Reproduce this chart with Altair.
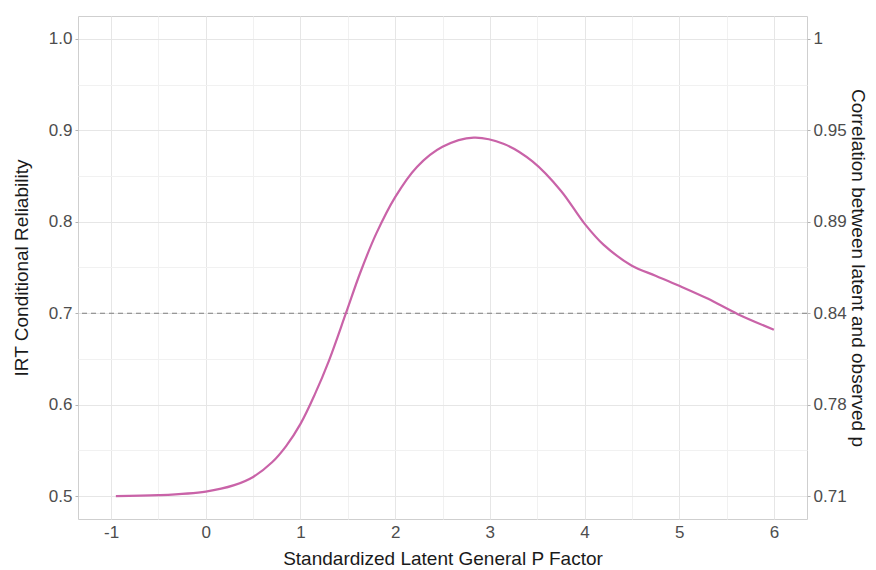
import altair as alt
import pandas as pd

# Curve
theta = [-0.95, -0.5, 0.0, 0.3, 0.5, 0.7, 0.85, 1.0, 1.15, 1.3, 1.48, 1.63, 1.8, 2.0,
         2.23, 2.5, 2.83, 3.15, 3.45, 3.75, 4.0, 4.2, 4.5, 4.75, 5.0, 5.3, 5.62, 6.0]
reliability = [0.500, 0.501, 0.505, 0.512, 0.521, 0.537, 0.555, 0.579, 0.611, 0.648,
               0.700, 0.744, 0.787, 0.827, 0.860, 0.882, 0.892, 0.885, 0.866, 0.834,
               0.798, 0.775, 0.752, 0.741, 0.730, 0.716, 0.699, 0.682]

threshold = [0.7]

x_ticks = [-1, 0, 1, 2, 3, 4, 5, 6]
x_minor = [-0.5, 0.5, 1.5, 2.5, 3.5, 4.5, 5.5]
y_ticks = [0.5, 0.6, 0.7, 0.8, 0.9, 1.0]
y_minor = [0.55, 0.65, 0.75, 0.85, 0.95]
right_labels = ["0.71", "0.78", "0.84", "0.89", "0.95", "1"]

curve = pd.DataFrame({"theta": theta, "rel": reliability})
thr = pd.DataFrame({"y": threshold})

FONT = "Liberation Sans"
LABEL_COLOR = "#4D4D4D"
TITLE_COLOR = "#1A1A1A"
LABEL_SIZE = 17
TITLE_SIZE = 19

x_dom = [-1.35, 6.35]
y_dom = [0.475, 1.025]

is_major_x = "abs(datum.value - round(datum.value)) < 1e-6"
is_major_y = "abs(datum.value*10 - round(datum.value*10)) < 1e-6"

right_expr = ""
for v, lab in zip(y_ticks, right_labels):
    right_expr += f"abs(datum.value - {v}) < 1e-6 ? '{lab}' : "
right_expr += "''"

x_axis = alt.Axis(
    values=sorted(x_ticks + x_minor),
    labelExpr=f"{is_major_x} ? toString(datum.value) : ''",
    title="Standardized Latent General P Factor",
    grid=True,
    gridColor={"condition": {"test": is_major_x, "value": "#E6E6E6"}, "value": "#F1F1F1"},
    gridWidth=1,
    ticks=False,
    domain=False,
    labelFont=FONT, labelFontSize=LABEL_SIZE, labelColor=LABEL_COLOR, labelPadding=5,
    titleFont=FONT, titleFontSize=TITLE_SIZE, titleFontWeight="normal", titleColor=TITLE_COLOR,
    titlePadding=9,
)

y_axis_left = alt.Axis(
    values=sorted(y_ticks + y_minor),
    format=".1f",
    labelExpr=f"{is_major_y} ? datum.label : ''",
    title="IRT Conditional Reliability",
    grid=True,
    gridColor={"condition": {"test": is_major_y, "value": "#E6E6E6"}, "value": "#F1F1F1"},
    gridWidth=1,
    ticks=True,
    tickSize=3,
    tickColor="#B3B3B3",
    tickOpacity={"condition": {"test": is_major_y, "value": 1}, "value": 0},
    domain=False,
    labelFont=FONT, labelFontSize=LABEL_SIZE, labelColor=LABEL_COLOR, labelPadding=3,
    titleFont=FONT, titleFontSize=TITLE_SIZE, titleFontWeight="normal", titleColor=TITLE_COLOR,
    titlePadding=17,
)

y_axis_right = alt.Axis(
    orient="right",
    values=y_ticks,
    labelExpr=right_expr,
    title="Correlation between latent and observed p",
    grid=False,
    ticks=True,
    tickSize=3,
    tickColor="#B3B3B3",
    domain=False,
    labelFont=FONT, labelFontSize=LABEL_SIZE, labelColor=LABEL_COLOR, labelPadding=3,
    titleFont=FONT, titleFontSize=TITLE_SIZE, titleFontWeight="normal", titleColor=TITLE_COLOR,
    titlePadding=1,
    titleAngle=90,
)

line = alt.Chart(curve).mark_line(
    color="#C963A8", strokeWidth=2.2, interpolate="catmull-rom"
).encode(
    x=alt.X("theta:Q", scale=alt.Scale(domain=x_dom, nice=False, zero=False), axis=x_axis),
    y=alt.Y("rel:Q", scale=alt.Scale(domain=y_dom, nice=False, zero=False), axis=y_axis_left),
)

rule = alt.Chart(thr).mark_rule(
    color="#7F7F7F", strokeDash=[5, 4], strokeWidth=1.2
).encode(
    y=alt.Y("y:Q", scale=alt.Scale(domain=y_dom, nice=False, zero=False), axis=y_axis_right),
)

chart = alt.layer(rule, line).resolve_scale(y="independent").properties(
    width=729,
    height=503,
    autosize=alt.AutoSizeParams(type="none"),
    padding={"left": 70, "top": 8, "right": 61, "bottom": 50},
    background="white",
).configure_view(stroke="#CFCFCF", strokeWidth=1)

chart.save("out.html", embed_options={"renderer": "svg", "actions": False})
